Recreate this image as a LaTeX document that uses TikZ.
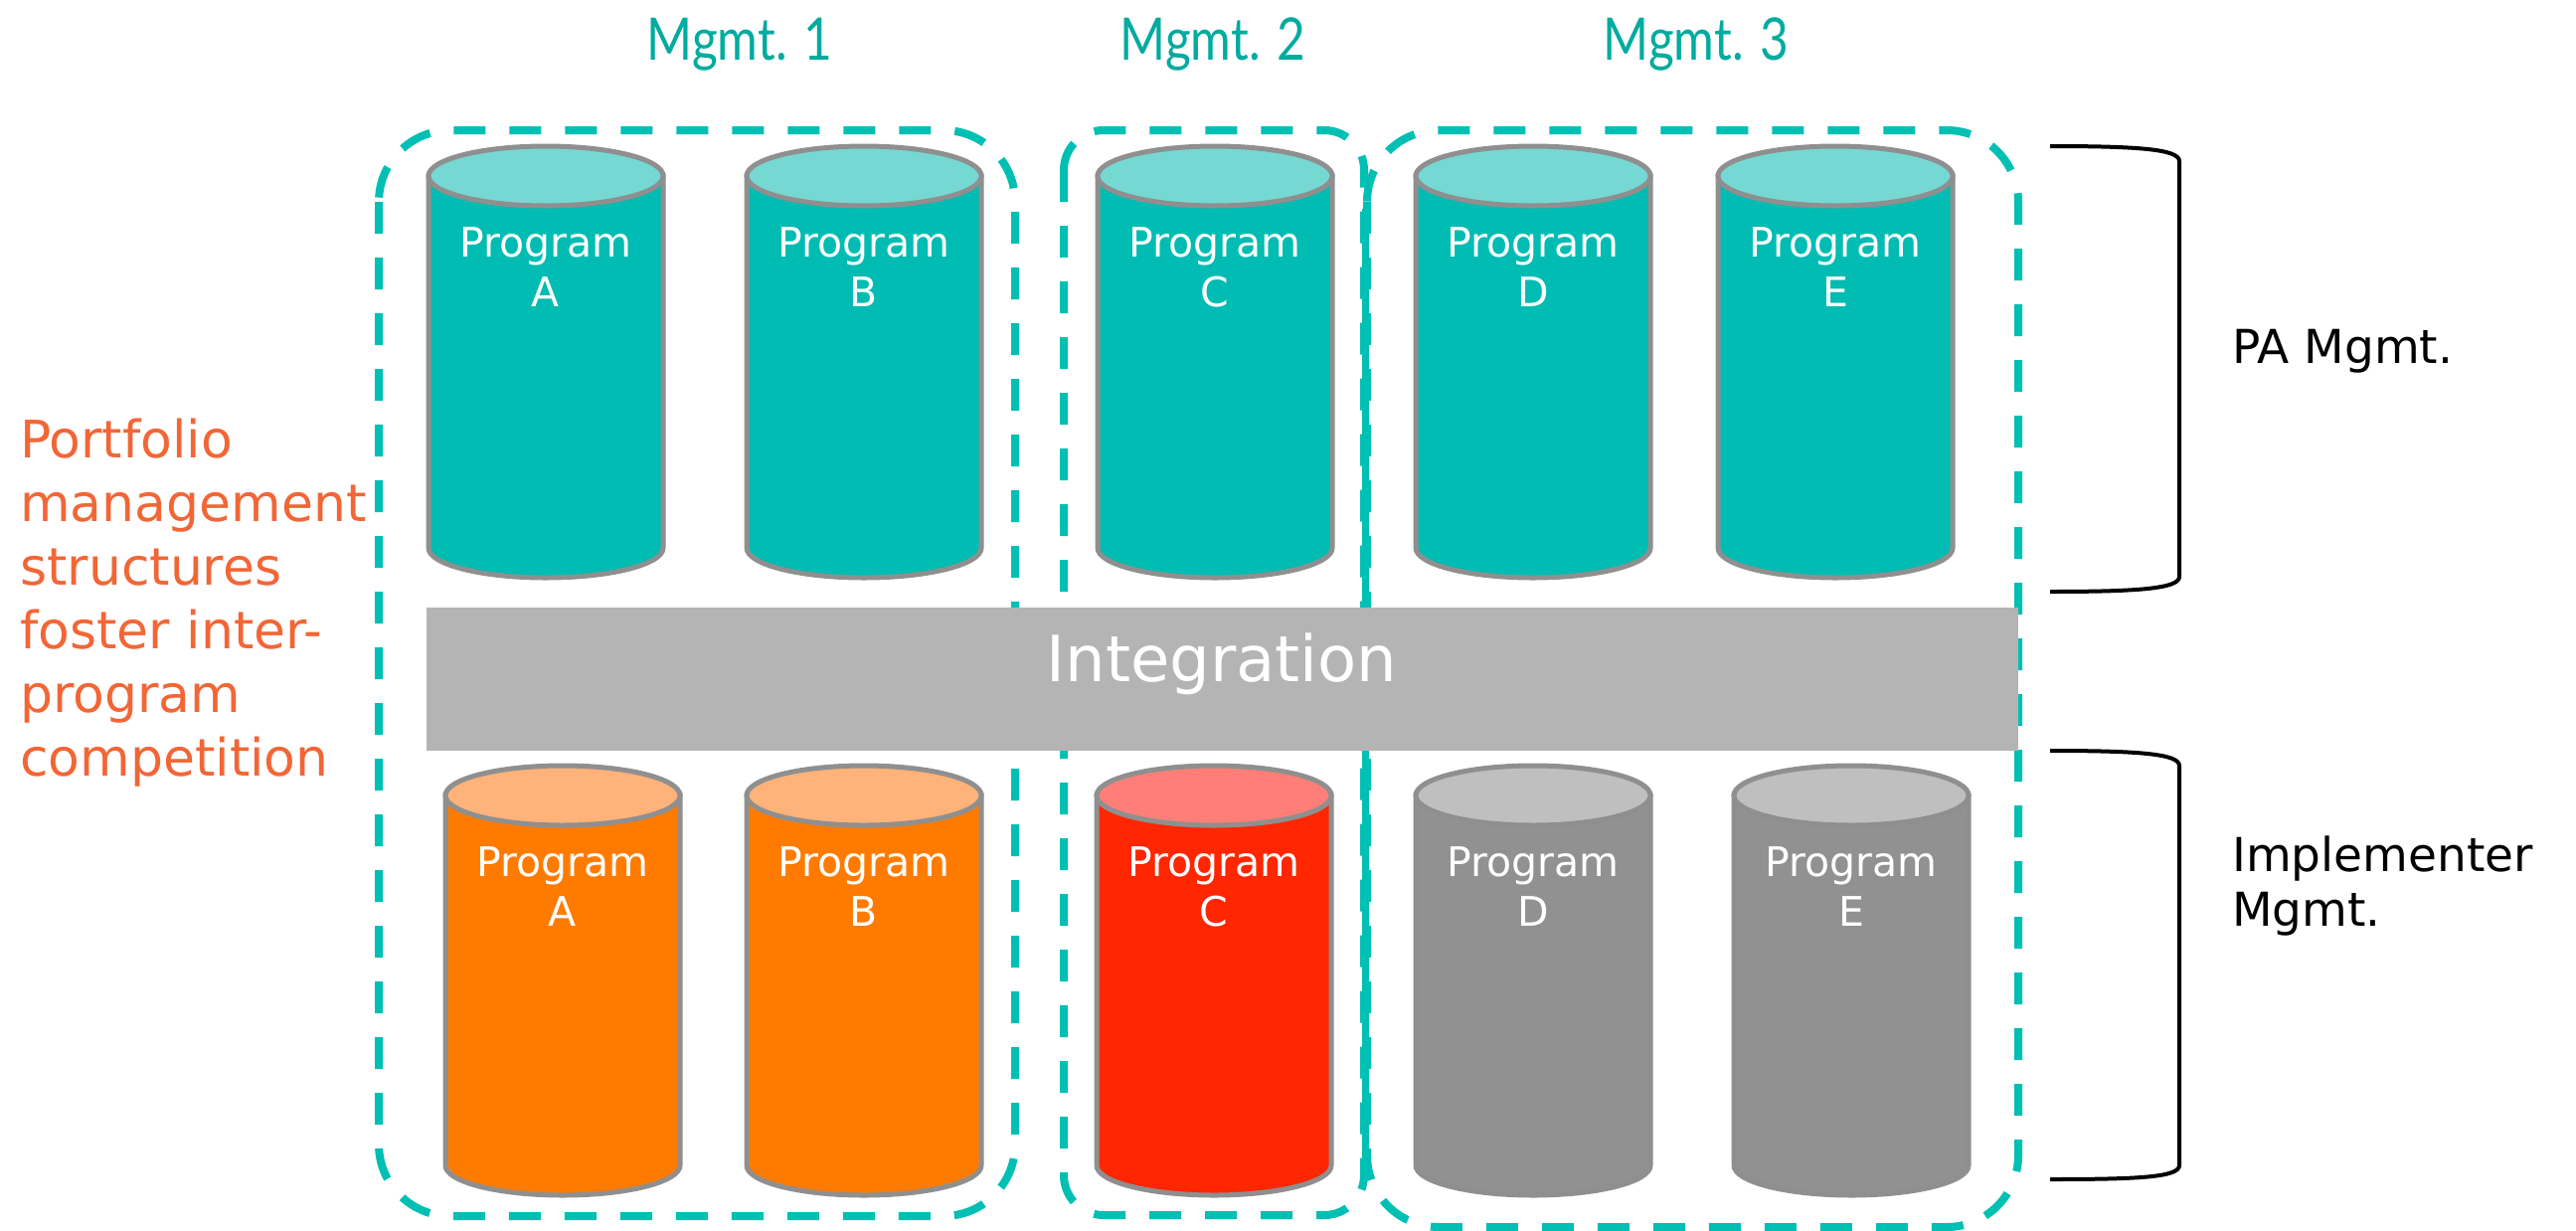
\documentclass[tikz,border=0pt]{standalone}
\usepackage{fontspec}
\setmainfont{DejaVu Sans}
\newfontfamily\hdrfont[FakeStretch=0.84]{Lato}
\definecolor{hdrteal}{HTML}{00AB9F}
\definecolor{dashteal}{HTML}{00BFB3}
\definecolor{tealbody}{HTML}{00BCB2}
\definecolor{tealtop}{HTML}{76D8D2}
\definecolor{orbody}{HTML}{FF7B00}
\definecolor{ortop}{HTML}{FFB27A}
\definecolor{redbody}{HTML}{FF2600}
\definecolor{redtop}{HTML}{FF7F78}
\definecolor{grbody}{HTML}{919191}
\definecolor{grtop}{HTML}{BFBFBF}
\definecolor{cylline}{HTML}{8F8F8F}
\definecolor{intgray}{HTML}{B4B4B4}
\definecolor{notetxt}{HTML}{F26636}
\newcommand\drawcyl[7]{%
  \path[draw=cylline, line width=5, fill=#5] ({#2-118},#3) -- ({#2-118},#4) arc (180:0:118 and 30) -- ({#2+118},#3) -- cycle;
  \path[draw=cylline, line width=5, fill=#6] (#2,#3) ellipse [x radius=118, y radius=30];
  \node[cyltext] (#1) at (#2,{#3+51}) {Program\\#7};
}
\begin{document}
\begin{tikzpicture}[x=1pt,y=-1pt,
  dashbox/.style={draw=dashteal, line width=8, dash pattern=on 32pt off 24pt},
  cyltext/.style={anchor=north, align=center, inner sep=0, text=white, font=\fontsize{41}{50}\selectfont},
  hdr/.style={anchor=base, inner sep=0, text=hdrteal, font=\hdrfont\fontsize{59}{60}\selectfont},
  brk/.style={draw=black, line width=4},
  side/.style={inner sep=0, align=left, font=\fontsize{47}{55}\selectfont}]
\useasboundingbox (0,0) rectangle (2591,1237);
% headers
\node[hdr] (h1) at (744,60) {Mgmt. 1};
\node[hdr] (h2) at (1220,60) {Mgmt. 2};
\node[hdr] (h3) at (1706,60) {Mgmt. 3};
% dashed groups
\draw[dashbox, rounded corners=72] (381,131) rectangle (1021,1223);
\draw[dashbox, rounded corners=40] (1070,131) rectangle (1372,1222);
\draw[dashbox, rounded corners=72] (1375,131) rectangle (2030,1234);
\draw[draw=dashteal, line width=7] (1373,210) -- (1373,1165);
% integration bar
\node[fill=intgray, minimum width=1601, minimum height=144, inner sep=0] (integ) at (1229.5,683) {};
\node[anchor=base, inner sep=0, text=white, font=\fontsize{64}{70}\selectfont] (integtext) at (1229,685) {Integration};
% top cylinders
\drawcyl{tA}{549}{177}{551}{tealbody}{tealtop}{A}
\drawcyl{tB}{869}{177}{551}{tealbody}{tealtop}{B}
\drawcyl{tC}{1222}{177}{551}{tealbody}{tealtop}{C}
\drawcyl{tD}{1542}{177}{551}{tealbody}{tealtop}{D}
\drawcyl{tE}{1846}{177}{551}{tealbody}{tealtop}{E}
% bottom cylinders
\drawcyl{bA}{566}{800}{1172}{orbody}{ortop}{A}
\drawcyl{bB}{869}{800}{1172}{orbody}{ortop}{B}
\drawcyl{bC}{1221}{800}{1172}{redbody}{redtop}{C}
\drawcyl{bD}{1542}{800}{1172}{grbody}{grtop}{D}
\drawcyl{bE}{1862}{800}{1172}{grbody}{grtop}{E}
% left note
\node[anchor=north west, align=left, inner sep=0, text=notetxt, font=\fontsize{52}{64}\selectfont] (note) at (20,421) {Portfolio\\management\\structures\\foster inter-\\program\\competition};
% brackets
\coordinate (b1s) at (2062,147);
\coordinate (b1e) at (2062,595);
\coordinate (b2s) at (2062,755);
\coordinate (b2e) at (2062,1186);
\draw[brk] (b1s) .. controls (2150,147) and (2192,150) .. (2192,162) -- (2192,580) .. controls (2192,592) and (2150,595) .. (b1e);
\draw[brk] (b2s) .. controls (2150,755) and (2192,758) .. (2192,770) -- (2192,1172) .. controls (2192,1184) and (2150,1186) .. (b2e);
\node[side, anchor=base west] (pamg) at (2245,365) {PA Mgmt.};
\node[side, anchor=north west] (impl) at (2245,841) {Implementer\\Mgmt.};
\end{tikzpicture}
\end{document}
